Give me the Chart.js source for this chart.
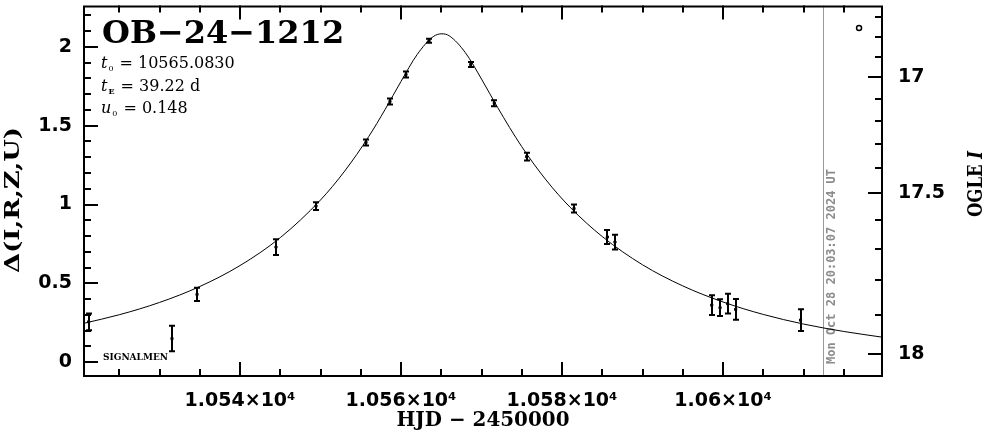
<!DOCTYPE html>
<html>
<head>
<meta charset="utf-8">
<script src="https://cdn.jsdelivr.net/npm/chart.js@4.4.1/dist/chart.umd.min.js"></script>
<style>
html, body { margin: 0; padding: 0; background: #fff; }
#wrap { width: 986px; height: 434px; }
</style>
</head>
<body>
<div id="wrap"><canvas id="lc" width="986" height="434"></canvas></div>
<script>
// observed points (HJD - 2450000, delta, error)
const obsHjd = [10521.2, 10531.55, 10534.66, 10544.47, 10549.44, 10555.65, 10558.63, 10560.62, 10563.48, 10568.66,
                10571.59, 10575.61, 10581.49, 10585.63, 10586.58, 10598.60, 10599.63, 10600.58, 10601.57, 10609.63];
const obsDelta = [0.256, 0.15, 0.43, 0.73, 0.99, 1.394, 1.654, 1.825, 2.039, 1.888,
                  1.642, 1.304, 0.975, 0.794, 0.762, 0.362, 0.346, 0.371, 0.335, 0.267];
const obsErr = [0.053, 0.081, 0.042, 0.05, 0.025, 0.019, 0.019, 0.019, 0.0125, 0.016,
                0.019, 0.025, 0.025, 0.044, 0.047, 0.0625, 0.053, 0.0625, 0.066, 0.069];

// model curve
const modelHjd = [10520.62, 10525, 10530, 10535, 10540, 10545, 10550, 10553, 10556, 10558, 10560, 10562, 10564, 10565.08,
                  10566, 10568, 10570, 10572, 10575, 10578, 10581, 10585, 10590, 10595, 10600, 10605, 10610, 10615, 10619.75];
const modelDelta = [0.247, 0.301, 0.379, 0.480, 0.613, 0.790, 1.029, 1.212, 1.432, 1.601, 1.781, 1.951, 2.065, 2.083,
                    2.070, 1.963, 1.796, 1.616, 1.367, 1.157, 0.983, 0.797, 0.618, 0.484, 0.382, 0.303, 0.242, 0.195, 0.159];

// OGLE marker (top right) and "now" line
const ogleMarkHjd = [10616.9];
const ogleMarkDelta = [2.12];
const nowHjd = 10612.4;

// axes
const xMin = 10520.62, xMax = 10619.75;
const yMin = -0.0875, yMax = 2.2625;
const xTickValues = [10525, 10530, 10535, 10540, 10545, 10550, 10555, 10560, 10565, 10570, 10575, 10580,
                     10585, 10590, 10595, 10600, 10605, 10610, 10615];
const yTickValues = [0, 0.1, 0.2, 0.3, 0.4, 0.5, 0.6, 0.7, 0.8, 0.9, 1, 1.1, 1.2, 1.3, 1.4, 1.5, 1.6, 1.7, 1.8, 1.9, 2, 2.1, 2.2];
const ogleMagTicks = [16.7, 16.8, 16.9, 17, 17.1, 17.2, 17.3, 17.4, 17.5, 17.6, 17.7, 17.8, 17.9, 18];
const ogleMagLabels = [17, 17.5, 18];
const ogleBase = 18.02, ogleFs = 0.364;

function magToDelta(m) {
    const a = 1 + (Math.pow(10, 0.4 * (ogleBase - m)) - 1) / ogleFs;
    return 2.5 * Math.log10(a);
}

const tickFont = { family: 'DejaVu Sans', weight: 'bold', size: 19 };

function stretchText(ctx, text, x, y, width, rot) {
    ctx.save();
    ctx.translate(x, y);
    if (rot) ctx.rotate(rot);
    const w = ctx.measureText(text).width;
    ctx.scale(width / w, 1);
    ctx.textAlign = 'center';
    ctx.textBaseline = 'middle';
    ctx.fillText(text, 0, 0);
    ctx.restore();
}

const decorPlugin = {
    id: 'decor',
    beforeDatasetsDraw(chart) {
        const ctx = chart.ctx, a = chart.chartArea;
        const xs = chart.scales.x;
        const px = xs.getPixelForValue(nowHjd);
        ctx.save();
        ctx.strokeStyle = '#999';
        ctx.lineWidth = 1;
        ctx.beginPath();
        ctx.moveTo(Math.round(px) + 0.5, a.top);
        ctx.lineTo(Math.round(px) + 0.5, a.bottom);
        ctx.stroke();
        // date stamp
        ctx.translate(px + 9, a.bottom - 12);
        ctx.rotate(-Math.PI / 2);
        ctx.fillStyle = '#8c8c8c';
        ctx.font = 'bold 12px "DejaVu Sans Mono"';
        ctx.textAlign = 'left';
        ctx.textBaseline = 'middle';
        ctx.fillText('Mon Oct 28 20:03:07 2024 UT', 0, 0);
        ctx.restore();
    },
    afterDatasetsDraw(chart) {
        const ctx = chart.ctx, a = chart.chartArea;
        const xs = chart.scales.x, ys = chart.scales.y, y2 = chart.scales.y2;
        ctx.save();
        // error bars
        ctx.strokeStyle = '#000';
        ctx.lineWidth = 2;
        obsHjd.forEach((h, i) => {
            const px = Math.round(xs.getPixelForValue(h));
            const top = ys.getPixelForValue(obsDelta[i] + obsErr[i]);
            const bot = ys.getPixelForValue(obsDelta[i] - obsErr[i]);
            ctx.beginPath();
            ctx.moveTo(px, top); ctx.lineTo(px, bot);
            ctx.moveTo(px - 3, top); ctx.lineTo(px + 3, top);
            ctx.moveTo(px - 3, bot); ctx.lineTo(px + 3, bot);
            ctx.stroke();
        });
        // ticks
        const major = 14, minor = 7;
        ctx.lineWidth = 2;
        ctx.beginPath();
        xs.ticks.forEach(t => {
            const px = Math.round(xs.getPixelForValue(t.value));
            const len = t.label !== '' ? major : minor;
            ctx.moveTo(px, a.bottom); ctx.lineTo(px, a.bottom - len);
            ctx.moveTo(px, a.top); ctx.lineTo(px, a.top + len);
        });
        ys.ticks.forEach(t => {
            const py = Math.round(ys.getPixelForValue(t.value));
            const len = t.label !== '' ? major : minor;
            ctx.moveTo(a.left, py); ctx.lineTo(a.left + len, py);
        });
        y2.ticks.forEach(t => {
            const py = Math.round(y2.getPixelForValue(t.value));
            const len = t.label !== '' ? major : minor;
            ctx.moveTo(a.right, py); ctx.lineTo(a.right - len, py);
        });
        ctx.stroke();
        // frame
        ctx.strokeRect(a.left, a.top + 1, a.right - a.left, a.bottom - a.top - 1);

        // texts
        ctx.fillStyle = '#000';
        ctx.font = 'bold 32px "DejaVu Serif"';
        ctx.textAlign = 'left';
        ctx.textBaseline = 'alphabetic';
        ctx.fillText('OB\u221224\u22121212', 102, 43);

        const params = [['t', '0', '= 10565.0830', 68], ['t', 'E', '= 39.22 d', 90.5], ['u', '0', '= 0.148', 113]];
        params.forEach(p => {
            let x = 101;
            ctx.font = 'italic 16px "DejaVu Serif"';
            ctx.fillText(p[0], x, p[3]);
            x += ctx.measureText(p[0]).width;
            ctx.font = (p[1] === 'E' ? 'bold ' : '') + '8px "DejaVu Serif"';
            ctx.fillText(p[1], x + 1, p[3] + 3);
            x += ctx.measureText(p[1]).width + 7;
            ctx.font = '16px "DejaVu Serif"';
            ctx.fillText(p[2], x, p[3]);
        });

        ctx.font = 'bold 9px "DejaVu Serif"';
        ctx.fillText('SIGNALMEN', 103, 360);

        // axis titles
        ctx.font = 'bold 20px "DejaVu Serif"';
        stretchText(ctx, 'HJD \u2212 2450000', (a.left + a.right) / 2, 421, 173, 0);
        stretchText(ctx, '\u0394(I,R,Z,U)', 14, 200, 146, -Math.PI / 2);
        ctx.save();
        ctx.translate(977, 184);
        ctx.rotate(-Math.PI / 2);
        ctx.font = 'bold 20px "DejaVu Serif"';
        const w1 = ctx.measureText('OGLE ').width;
        ctx.font = 'bold italic 20px "DejaVu Serif"';
        const w2 = ctx.measureText('I').width;
        const sc = 66 / (w1 + w2);
        ctx.scale(sc, 1);
        ctx.textBaseline = 'middle';
        ctx.textAlign = 'left';
        ctx.font = 'bold 20px "DejaVu Serif"';
        ctx.fillText('OGLE ', -(w1 + w2) / 2, 0);
        ctx.font = 'bold italic 20px "DejaVu Serif"';
        ctx.fillText('I', -(w1 + w2) / 2 + w1, 0);
        ctx.restore();
        ctx.restore();
    }
};

const ctx = document.getElementById('lc').getContext('2d');

const lcChart = new Chart(ctx, {
    type: 'scatter',
    data: {
        datasets: [
            {
                label: 'model',
                data: modelHjd.map((h, i) => ({ x: h, y: modelDelta[i] })),
                showLine: true,
                borderColor: '#000',
                borderWidth: 1,
                pointRadius: 0,
                cubicInterpolationMode: 'monotone',
                yAxisID: 'y'
            },
            {
                label: 'data',
                data: obsHjd.map((h, i) => ({ x: h, y: obsDelta[i] })),
                pointStyle: 'rect',
                pointRadius: 1.5,
                backgroundColor: '#000',
                borderColor: '#000',
                borderWidth: 1,
                yAxisID: 'y'
            },
            {
                label: 'OGLE',
                data: ogleMarkHjd.map((h, i) => ({ x: h, y: ogleMarkDelta[i] })),
                pointStyle: 'circle',
                pointRadius: 2.5,
                backgroundColor: '#fff',
                borderColor: '#000',
                borderWidth: 1.5,
                yAxisID: 'y'
            }
        ]
    },
    options: {
        responsive: false,
        animation: false,
        events: [],
        layout: { padding: 0 },
        plugins: { legend: { display: false }, tooltip: { enabled: false } },
        scales: {
            x: {
                type: 'linear',
                position: 'bottom',
                min: xMin, max: xMax,
                grid: { display: false, drawTicks: false },
                border: { display: false },
                afterBuildTicks: s => { s.ticks = xTickValues.map(v => ({ value: v })); },
                ticks: {
                    autoSkip: false, maxRotation: 0, padding: 14, color: '#000', font: tickFont,
                    callback: v => v % 20 === 0 ? parseFloat((v / 1e4).toFixed(4)) + '\u00d710\u2074' : ''
                },
                afterFit: s => { s.height = 58; s.paddingLeft = 0; s.paddingRight = 0; }
            },
            y: {
                type: 'linear',
                position: 'left',
                min: yMin, max: yMax,
                grid: { display: false, drawTicks: false },
                border: { display: false },
                afterBuildTicks: s => { s.ticks = yTickValues.map(v => ({ value: v })); },
                ticks: {
                    autoSkip: false, padding: 12, color: '#000', font: tickFont,
                    callback: v => Math.abs(v * 2 - Math.round(v * 2)) < 1e-6 ? String(v) : ''
                },
                afterFit: s => { s.width = 84; s.paddingTop = 0; s.paddingBottom = 0; }
            },
            y2: {
                type: 'linear',
                position: 'right',
                min: yMin, max: yMax,
                grid: { display: false, drawTicks: false },
                border: { display: false },
                afterBuildTicks: s => { s.ticks = ogleMagTicks.map(m => ({ value: magToDelta(m), mag: m })); },
                ticks: {
                    autoSkip: false, padding: 16, color: '#000', font: tickFont,
                    callback: (v, i, ticks) => ogleMagLabels.includes(ticks[i].mag) ? String(ticks[i].mag) : ''
                },
                afterFit: s => { s.width = 104; s.paddingTop = 0; s.paddingBottom = 0; }
            }
        }
    },
    plugins: [decorPlugin]
});
</script>
</body>
</html>
